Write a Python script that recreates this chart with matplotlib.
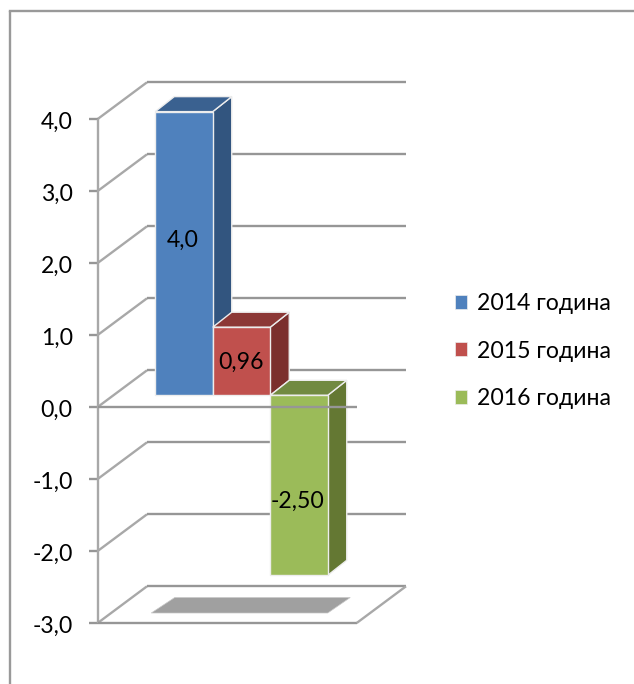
import matplotlib
matplotlib.use("Agg")
import matplotlib.pyplot as plt
from matplotlib.patches import Patch, Polygon, Rectangle

plt.rcParams['font.family'] = ['Lato', 'Noto Sans', 'DejaVu Sans']

# Data
series = ['2014 година', '2015 година', '2016 година']
values = [4.0, 0.96, -2.50]
value_labels = ['4,0', '0,96', '-2,50']
ticks = [4, 3, 2, 1, 0, -1, -2, -3]
tick_labels = ['4,0', '3,0', '2,0', '1,0', '0,0', '-1,0', '-2,0', '-3,0']

# Styles
front_colors = ['#4F81BD', '#C0504D', '#9BBB59']
top_colors = ['#3A6190', '#8C3836', '#718A41']
side_colors = ['#32557F', '#7B2F2D', '#647833']
GRID = '#969696'
WALL = '#A8A8A8'
W, H = 634, 684
PX_X, PX_Y = 57.5, 72.0      # pixels per category / per value unit
X0_PX, Y0_PX = 184.0, 407.0  # pixel position of category 0 / value 0
LW = 1.7
FS = 16.6

fig = plt.figure(figsize=(W / 100, H / 100), dpi=100)
ax = fig.add_axes([0, 0, 1, 1])
ax.set_xlim(-X0_PX / PX_X, (W - X0_PX) / PX_X)
ax.set_ylim((Y0_PX - H) / PX_Y, Y0_PX / PX_Y)
ax.axis('off')


def dx(px):
    return px / PX_X


def dy(px):
    return px / PX_Y


def line(xs, ys, z=1, color=GRID):
    ax.plot(xs, ys, color=color, lw=LW, solid_capstyle='butt',
            solid_joinstyle='miter', zorder=z, clip_on=False)


# Plot box geometry (in axis units)
left = dx(97.7 - X0_PX)
right = dx(356.7 - X0_PX)
depth_x, depth_y = dx(49.3), dy(36.7)
tick_len = dx(9)

# Outer chart frame: only the top and left edges fall inside the picture
fx = dx(9.5 - X0_PX)
fy = dy(Y0_PX - 10.5)
ax.plot([fx, fx], [dy(Y0_PX - H), fy], color='#999999', lw=1.7, zorder=0,
        solid_capstyle='butt', clip_on=False)
ax.plot([fx, dx(W - X0_PX)], [fy, fy], color='#999999', lw=1.7, zorder=0,
        solid_capstyle='projecting', clip_on=False)

# Back grid lines and side-wall diagonals
for t, lab in zip(ticks, tick_labels):
    line([left, left + depth_x], [t, t + depth_y], z=1, color=WALL)
    line([left + depth_x, right + depth_x], [t + depth_y, t + depth_y], z=1)
    line([left - tick_len, left], [t, t], z=1)
    ax.text(left - dx(25), t - dy(1), lab, ha='right', va='center_baseline', fontsize=FS,
            color='black', zorder=6)

# Left axis, floor front and floor right edge
line([left, left], [min(ticks), max(ticks)], z=2, color=WALL)
line([left, right], [min(ticks), min(ticks)], z=2)
line([right, right + depth_x], [min(ticks), min(ticks) + depth_y], z=2, color=WALL)

# Floor shadow
bw = 0.5
shadow_y = min(ticks) + dy(10)
ax.add_patch(Polygon([(-bw - dx(4), shadow_y), (2 + bw, shadow_y),
                      (2 + bw + dx(22.5), shadow_y + dy(15.5)),
                      (-bw - dx(4) + dx(23.5), shadow_y + dy(15.5))],
                     fc='#A0A0A0', ec='#C8C8C8', lw=0.5, zorder=2))

# 3D bars
base = dy(11.7)
bar_dx, bar_dy = dx(19), dy(15)
POS_SCALE, NEG_SCALE = 0.985, 1.0
EDGE = '#EDEDED'
for i, v in enumerate(values):
    x0, x1 = i - bw, i + bw
    y0, y1 = sorted((base, base + v * (POS_SCALE if v > 0 else NEG_SCALE)))
    z = 3 + i * 0.1
    ax.add_patch(Polygon([(x1, y0), (x1 + bar_dx, y0 + bar_dy),
                          (x1 + bar_dx, y1 + bar_dy), (x1, y1)],
                         fc=side_colors[i], ec=EDGE, lw=1.0, zorder=z))
    ax.add_patch(Polygon([(x0, y1), (x1, y1), (x1 + bar_dx, y1 + bar_dy),
                          (x0 + bar_dx, y1 + bar_dy)],
                         fc=top_colors[i], ec=EDGE, lw=1.0, zorder=z))
    ax.add_patch(Rectangle((x0, y0), x1 - x0, y1 - y0,
                           fc=front_colors[i], ec=EDGE, lw=1.0, zorder=z))

# Front zero line above the bars
line([left, right], [0, 0], z=4)

# Data labels
label_x = [-0.03, 0.0, -0.03]
label_y = [2.34, 0.65, -1.28]
for lx, i, lab, ly in zip(label_x, range(3), value_labels, label_y):
    ax.text(i + lx, ly, lab, ha='center', va='center_baseline',
            fontsize=FS, color='black', zorder=7)

# Legend
handles = [Patch(fc=c, ec='#EDEDED', lw=0.5) for c in front_colors]
ax.legend(handles, series, loc='center left', bbox_to_anchor=(454.5 / W, 1 - 351 / H),
          frameon=False, fontsize=FS, handlelength=0.56, handleheight=0.56,
          handletextpad=0.43, labelspacing=1.16, borderpad=0, borderaxespad=0)

fig.savefig('out.png', dpi=100)
